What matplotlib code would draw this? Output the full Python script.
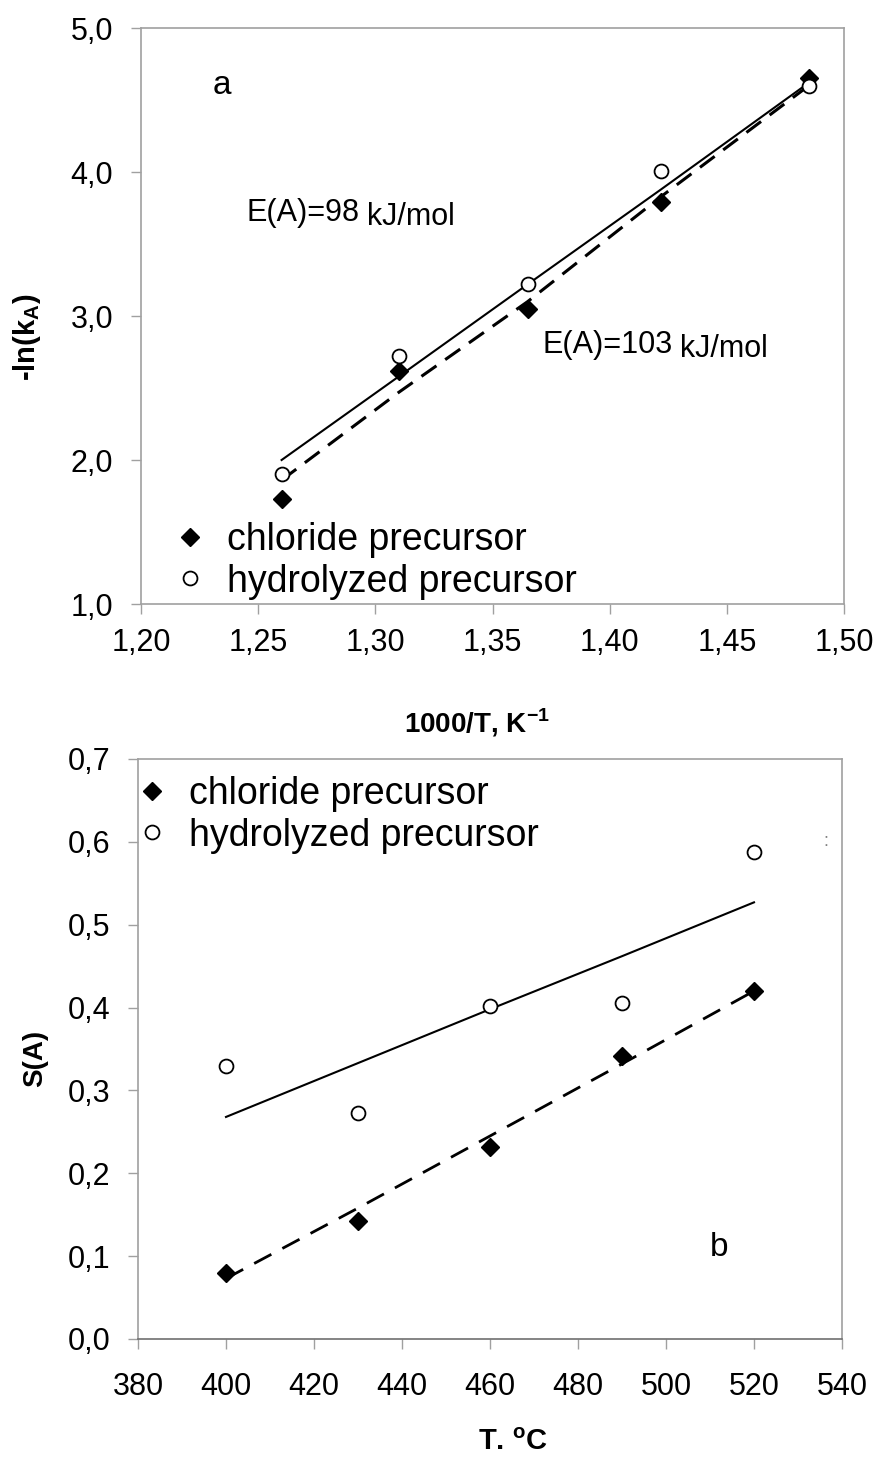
import matplotlib
matplotlib.use("Agg")
from matplotlib import pyplot as plt
from matplotlib.ticker import FuncFormatter

plt.rcParams['font.family'] = ['Liberation Sans', 'DejaVu Sans']

# panel a: Arrhenius plot
inv_t = [1.260, 1.310, 1.365, 1.422, 1.485]
lnk_chloride = [1.73, 2.62, 3.05, 3.79, 4.65]
lnk_hydrolyzed = [1.90, 2.72, 3.22, 4.01, 4.60]
fit_a_solid = [2.00, 2.58, 3.22, 3.88, 4.62]
fit_a_dashed = [1.86, 2.47, 3.10, 3.83, 4.60]

# panel b: selectivity vs temperature
temp = [400, 430, 460, 490, 520]
s_chloride = [0.080, 0.143, 0.232, 0.342, 0.420]
s_hydrolyzed = [0.330, 0.273, 0.402, 0.405, 0.588]
fit_b_solid = [0.268, 0.333, 0.398, 0.462, 0.527]
fit_b_dashed = [0.073, 0.158, 0.245, 0.332, 0.420]

W, H = 881, 1457
gray = '#a0a0a0'
comma = FuncFormatter(lambda v, p: ('%.2f' % v).replace('.', ','))
comma1 = FuncFormatter(lambda v, p: ('%.1f' % v).replace('.', ','))

fig = plt.figure(figsize=(W / 100, H / 100), dpi=100)


def style(ax, xpad):
    for s in ax.spines.values():
        s.set_color(gray)
        s.set_linewidth(1.2)
    ax.tick_params(direction='out', length=7, width=1.0, color=gray,
                   labelsize=22)
    ax.tick_params(axis='x', pad=xpad)
    ax.tick_params(axis='y', pad=13)


leg_kw = dict(frameon=False, fontsize=27, handletextpad=0.5,
              labelspacing=0.15, borderpad=0, borderaxespad=0,
              handlelength=1.0, markerscale=1.0,
              bbox_transform=fig.transFigure, loc='upper left')

# ---- panel a
ax1 = fig.add_axes([141 / W, 1 - 604 / H, 703 / W, 576 / H])
ax1.plot(inv_t, fit_a_solid, color='black', lw=1.5)
ax1.plot(inv_t, fit_a_dashed, color='black', lw=2.2, dashes=(6, 3.5))
ax1.plot(inv_t, lnk_chloride, 'D', ms=9, color='black',
         label='chloride precursor', ls='none')
ax1.plot(inv_t, lnk_hydrolyzed, 'o', ms=10, mfc='white', mec='black', mew=1.3,
         label='hydrolyzed precursor', ls='none')
ax1.set_xlim(1.20, 1.50)
ax1.set_ylim(1.0, 5.0)
ax1.set_xticks([1.20, 1.25, 1.30, 1.35, 1.40, 1.45, 1.50])
ax1.set_yticks([1.0, 2.0, 3.0, 4.0, 5.0])
ax1.xaxis.set_major_formatter(comma)
ax1.yaxis.set_major_formatter(comma1)
style(ax1, 10)
ax1.text(1.2305, 4.6, 'a', fontsize=24, va='center')
for x0, y0, s in [(1.2452, 3.715, 'E(A)=98'), (1.3715, 2.80, 'E(A)=103')]:
    t = ax1.text(x0, y0, s, fontsize=22, va='center')
    ax1.annotate('kJ/mol', xy=(1, 0.5), xycoords=t, xytext=(7, -4),
                 textcoords='offset pixels', fontsize=22, va='center')
ax1.legend(bbox_to_anchor=(171 / W, 1 - 522 / H), **leg_kw)
fig.text(27 / W, 1 - 337 / H, '-ln(k$_\\mathregular{A}$)', fontsize=21,
         fontweight='bold', rotation=90, ha='center', va='center')
ax1.set_xlabel('1000/T, K$^\\mathregular{-1}$', fontsize=20, fontweight='bold')
ax1.xaxis.set_label_coords(0.478, -0.178)

# ---- panel b
ax2 = fig.add_axes([138 / W, 1 - 1339 / H, 704 / W, 580 / H])
ax2.plot(temp, fit_b_solid, color='black', lw=1.5)
ax2.plot(temp, fit_b_dashed, color='black', lw=2.0, dashes=(7, 4.5))
ax2.plot(temp, s_chloride, 'D', ms=9, color='black',
         label='chloride precursor', ls='none')
ax2.plot(temp, s_hydrolyzed, 'o', ms=10, mfc='white', mec='black', mew=1.3,
         label='hydrolyzed precursor', ls='none')
ax2.set_xlim(380, 540)
ax2.set_ylim(0.0, 0.7)
ax2.set_xticks(range(380, 541, 20))
ax2.set_yticks([0.0, 0.1, 0.2, 0.3, 0.4, 0.5, 0.6, 0.7])
ax2.yaxis.set_major_formatter(comma1)
style(ax2, 17)
ax2.spines['bottom'].set_color('#707070')
ax2.text(510, 0.11, 'b', fontsize=24, va='center')
ax2.text(535.8, 0.6, ':', fontsize=13, color='#808080', va='center')
ax2.legend(bbox_to_anchor=(133 / W, 1 - 776 / H), **leg_kw)
fig.text(35 / W, 1 - 1058 / H, 'S(A)', fontsize=20, fontweight='bold',
         rotation=90, ha='center', va='center')
ax2.set_xlabel('T. $^\\mathregular{o}$C', fontsize=21, fontweight='bold')
ax2.xaxis.set_label_coords(0.533, -0.153)

fig.savefig('out.png', dpi=100)
